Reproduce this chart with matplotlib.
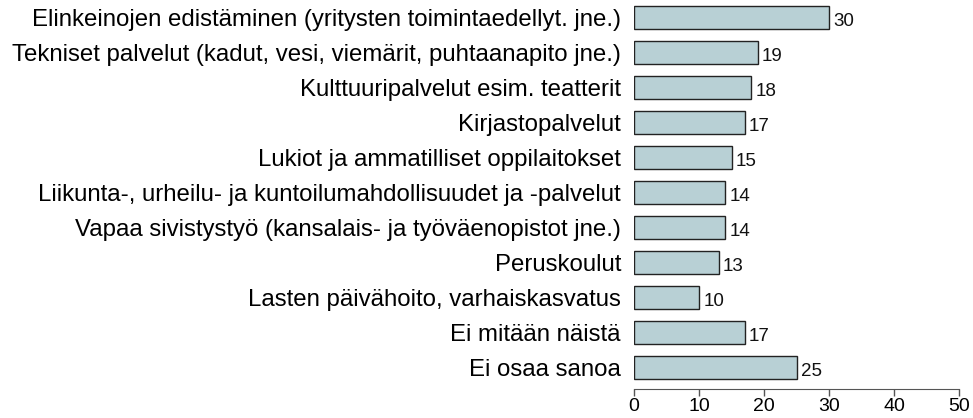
import matplotlib
matplotlib.use("Agg")
import matplotlib.pyplot as plt
import numpy as np

categories = [
    "Elinkeinojen edistäminen (yritysten toimintaedellyt. jne.)",
    "Tekniset palvelut (kadut, vesi, viemärit, puhtaanapito jne.)",
    "Kulttuuripalvelut esim. teatterit",
    "Kirjastopalvelut",
    "Lukiot ja ammatilliset oppilaitokset",
    "Liikunta-, urheilu- ja kuntoilumahdollisuudet ja -palvelut",
    "Vapaa sivistystyö (kansalais- ja työväenopistot jne.)",
    "Peruskoulut",
    "Lasten päivähoito, varhaiskasvatus",
    "Ei mitään näistä",
    "Ei osaa sanoa",
]
values = [30, 19, 18, 17, 15, 14, 14, 13, 10, 17, 25]
xticks = [0, 10, 20, 30, 40, 50]

plt.rcParams['font.family'] = ['Liberation Sans', 'DejaVu Sans']

W, H = 973, 418
fig = plt.figure(figsize=(W / 100, H / 100), dpi=100)
# axes placed so that 0..50 spans px 634..959 and bars sit at 17.5 + 35*i
left, right = 634 / W, 959 / W
top_px, bot_px = 3.5, 388.5
ax = fig.add_axes([left, 1 - bot_px / H, right - left, (bot_px - top_px) / H])

ypos = np.arange(len(values))
ax.barh(ypos, values, height=23 / 35, color='#b8d0d5', edgecolor='#222222', linewidth=1.0)
for y, v in zip(ypos, values):
    ax.text(v + 0.7, y + 0.11, str(v), va='center', ha='left', fontsize=13.5, color='#111111')

ax.set_xlim(0, 50)
ax.set_ylim(10.6, -0.4)
ax.set_yticks(ypos)
ax.set_yticklabels(categories, fontsize=17.3)
ax.tick_params(axis='y', length=0, pad=9.4)
ax.set_xticks(xticks)
ax.set_xticklabels([str(t) for t in xticks], fontsize=14)
ax.tick_params(axis='x', length=5, width=1, color='#555555', pad=2)
for s in ['top', 'right', 'left']:
    ax.spines[s].set_visible(False)
ax.spines['bottom'].set_color('#555555')

fig.savefig('out.png', dpi=100)
